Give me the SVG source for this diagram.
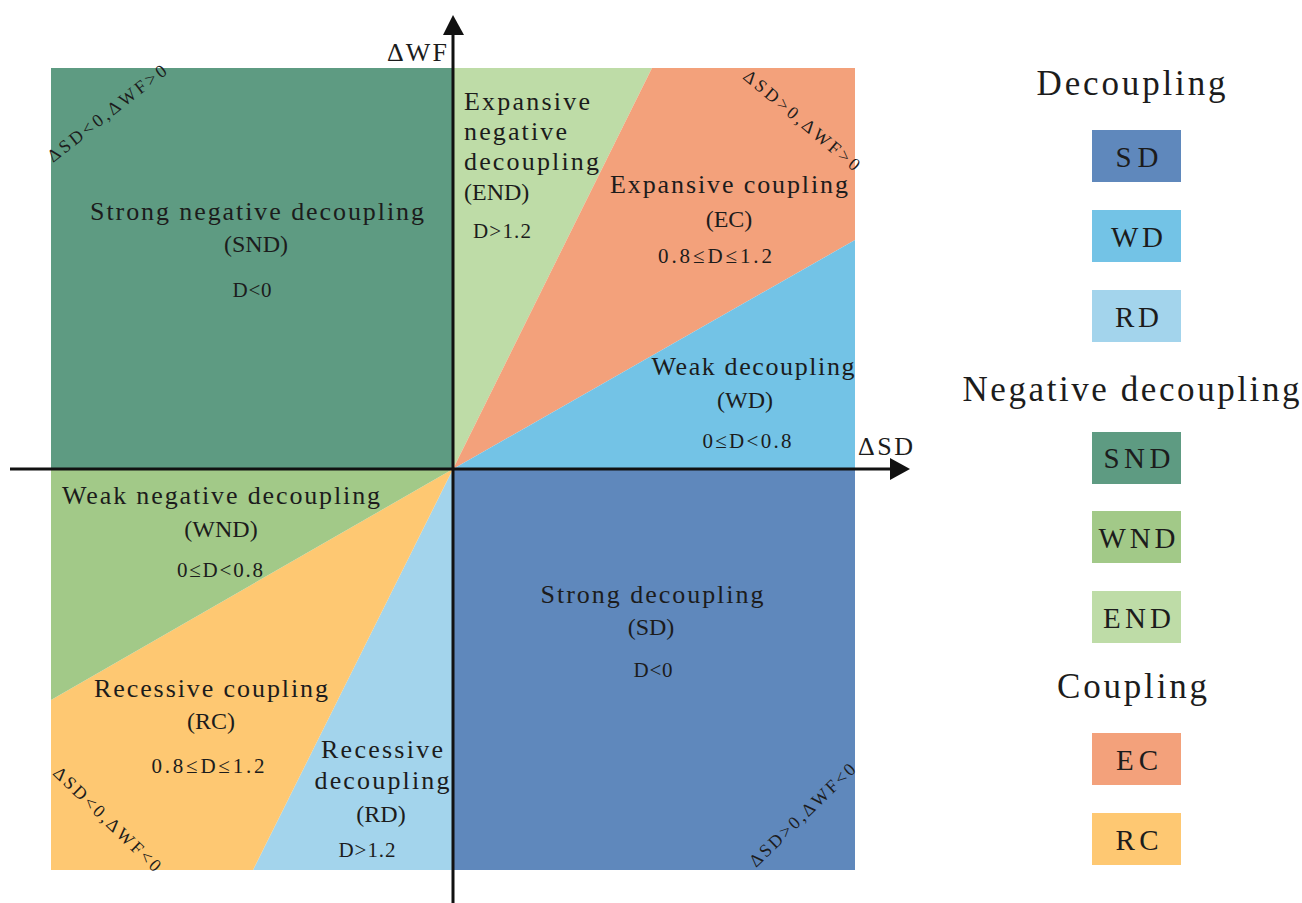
<svg xmlns="http://www.w3.org/2000/svg" width="1302" height="903" viewBox="0 0 1302 903">
  <defs>
    <style>
      text { font-family: "Liberation Serif", "Times New Roman", serif; fill: #1c1c1c; }
      .lbl { font-size: 26px; text-anchor: middle; }
      .lbl-l { font-size: 26px; text-anchor: start; }
      .abbr { font-size: 24px; text-anchor: middle; }
      .abbr-l { font-size: 24px; text-anchor: start; }
      .cond { font-size: 21px; text-anchor: middle; }
      .cond-l { font-size: 21px; text-anchor: start; }
      .diag { font-size: 18px; }
      .axis-lbl { font-size: 26px; }
      .head { font-size: 35px; text-anchor: middle; }
      .key { font-size: 29px; text-anchor: middle; }
      .axis { stroke: #111; stroke-width: 3; fill: none; }
      .sd { fill: #5f88bc; }
      .wd { fill: #73c3e6; }
      .rd { fill: #a3d4ec; }
      .snd { fill: #5e9b82; }
      .wnd { fill: #a2c988; }
      .end { fill: #bedca7; }
      .ec { fill: #f3a17b; }
      .rc { fill: #fec872; }
    </style>
  </defs>

  <rect width="1302" height="903" fill="#ffffff"/>

  <!-- Quadrant sectors around the origin (453,469) -->
  <g id="snd">
    <rect class="snd" x="51" y="68" width="402" height="401"/>
    <text class="lbl" x="257" y="220" textLength="334">Strong negative decoupling</text>
    <text class="abbr" x="256" y="252">(SND)</text>
    <text class="cond" x="252" y="297" textLength="39">D&lt;0</text>
  </g>

  <g id="end">
    <polygon class="end" points="453,68 652,68 453,469"/>
    <text class="lbl-l" x="464" y="110" textLength="126">Expansive</text>
    <text class="lbl-l" x="464" y="140" textLength="103">negative</text>
    <text class="lbl-l" x="464" y="170" textLength="135">decoupling</text>
    <text class="abbr-l" x="464" y="200">(END)</text>
    <text class="cond-l" x="473" y="238" textLength="58">D&gt;1.2</text>
  </g>

  <g id="ec">
    <polygon class="ec" points="652,68 855,68 855,240 453,469"/>
    <text class="lbl" x="729" y="193" textLength="238">Expansive coupling</text>
    <text class="abbr" x="729" y="227">(EC)</text>
    <text class="cond" x="715" y="263" textLength="114">0.8≤D≤1.2</text>
  </g>

  <g id="wd">
    <polygon class="wd" points="855,240 855,469 453,469"/>
    <text class="lbl" x="753" y="375" textLength="203">Weak decoupling</text>
    <text class="abbr" x="745" y="408">(WD)</text>
    <text class="cond" x="747" y="448" textLength="89">0≤D&lt;0.8</text>
  </g>

  <g id="sd">
    <rect class="sd" x="453" y="469" width="402" height="401"/>
    <text class="lbl" x="652" y="603" textLength="223">Strong decoupling</text>
    <text class="abbr" x="651" y="635">(SD)</text>
    <text class="cond" x="653" y="677" textLength="39">D&lt;0</text>
  </g>

  <g id="rd">
    <polygon class="rd" points="453,469 453,870 253,870"/>
    <text class="lbl" x="382" y="758" textLength="122">Recessive</text>
    <text class="lbl" x="382" y="789" textLength="135">decoupling</text>
    <text class="abbr" x="381" y="822">(RD)</text>
    <text class="cond" x="367" y="857" textLength="57">D&gt;1.2</text>
  </g>

  <g id="rc">
    <polygon class="rc" points="253,870 51,870 51,700 453,469"/>
    <text class="lbl" x="211" y="697" textLength="234">Recessive coupling</text>
    <text class="abbr" x="211" y="729">(RC)</text>
    <text class="cond" x="208" y="773" textLength="113">0.8≤D≤1.2</text>
  </g>

  <g id="wnd">
    <polygon class="wnd" points="51,700 51,469 453,469"/>
    <text class="lbl" x="221" y="504" textLength="318">Weak negative decoupling</text>
    <text class="abbr" x="221" y="537">(WND)</text>
    <text class="cond" x="220" y="577" textLength="86">0≤D&lt;0.8</text>
  </g>

  <!-- Sign conditions along the corners -->
  <g id="corner-labels">
    <text class="diag" transform="translate(53,163) rotate(-38)" textLength="146">ΔSD&lt;0,ΔWF&gt;0</text>
    <text class="diag" transform="translate(742,78) rotate(40)" textLength="146">ΔSD&gt;0,ΔWF&gt;0</text>
    <text class="diag" transform="translate(52,774) rotate(44)" textLength="142">ΔSD&lt;0,ΔWF&lt;0</text>
    <text class="diag" transform="translate(756,868) rotate(-44)" textLength="140">ΔSD&gt;0,ΔWF&lt;0</text>
  </g>

  <!-- Axes -->
  <g id="axes">
    <line class="axis" x1="453" y1="903" x2="453" y2="30"/>
    <polygon points="453,15 443,35 464,35" fill="#111"/>
    <line class="axis" x1="10" y1="469" x2="893" y2="469"/>
    <polygon points="910,469 890,458 890,480" fill="#111"/>
    <text class="axis-lbl" x="387" y="61" textLength="60">ΔWF</text>
    <text class="axis-lbl" x="858" y="455" textLength="55">ΔSD</text>
  </g>

  <!-- Legend -->
  <g id="legend">
    <text class="head" x="1131" y="95" textLength="189">Decoupling</text>
    <g id="key-sd"><rect class="sd" x="1092" y="130" width="89" height="52"/><text class="key" x="1137" y="167" textLength="43">SD</text></g>
    <g id="key-wd"><rect class="wd" x="1092" y="210" width="89" height="52"/><text class="key" x="1137" y="247" textLength="52">WD</text></g>
    <g id="key-rd"><rect class="rd" x="1092" y="290" width="89" height="52"/><text class="key" x="1137" y="327" textLength="44">RD</text></g>
    <text class="head" x="1131" y="401" textLength="337">Negative decoupling</text>
    <g id="key-snd"><rect class="snd" x="1092" y="432" width="89" height="52"/><text class="key" x="1137" y="468" textLength="67">SND</text></g>
    <g id="key-wnd"><rect class="wnd" x="1092" y="511" width="89" height="52"/><text class="key" x="1137" y="548" textLength="77">WND</text></g>
    <g id="key-end"><rect class="end" x="1092" y="591" width="89" height="52"/><text class="key" x="1137" y="628" textLength="68">END</text></g>
    <text class="head" x="1132" y="698" textLength="150">Coupling</text>
    <g id="key-ec"><rect class="ec" x="1092" y="733" width="89" height="52"/><text class="key" x="1137" y="770" textLength="42">EC</text></g>
    <g id="key-rc"><rect class="rc" x="1092" y="813" width="89" height="52"/><text class="key" x="1137" y="850" textLength="43">RC</text></g>
  </g>
</svg>
